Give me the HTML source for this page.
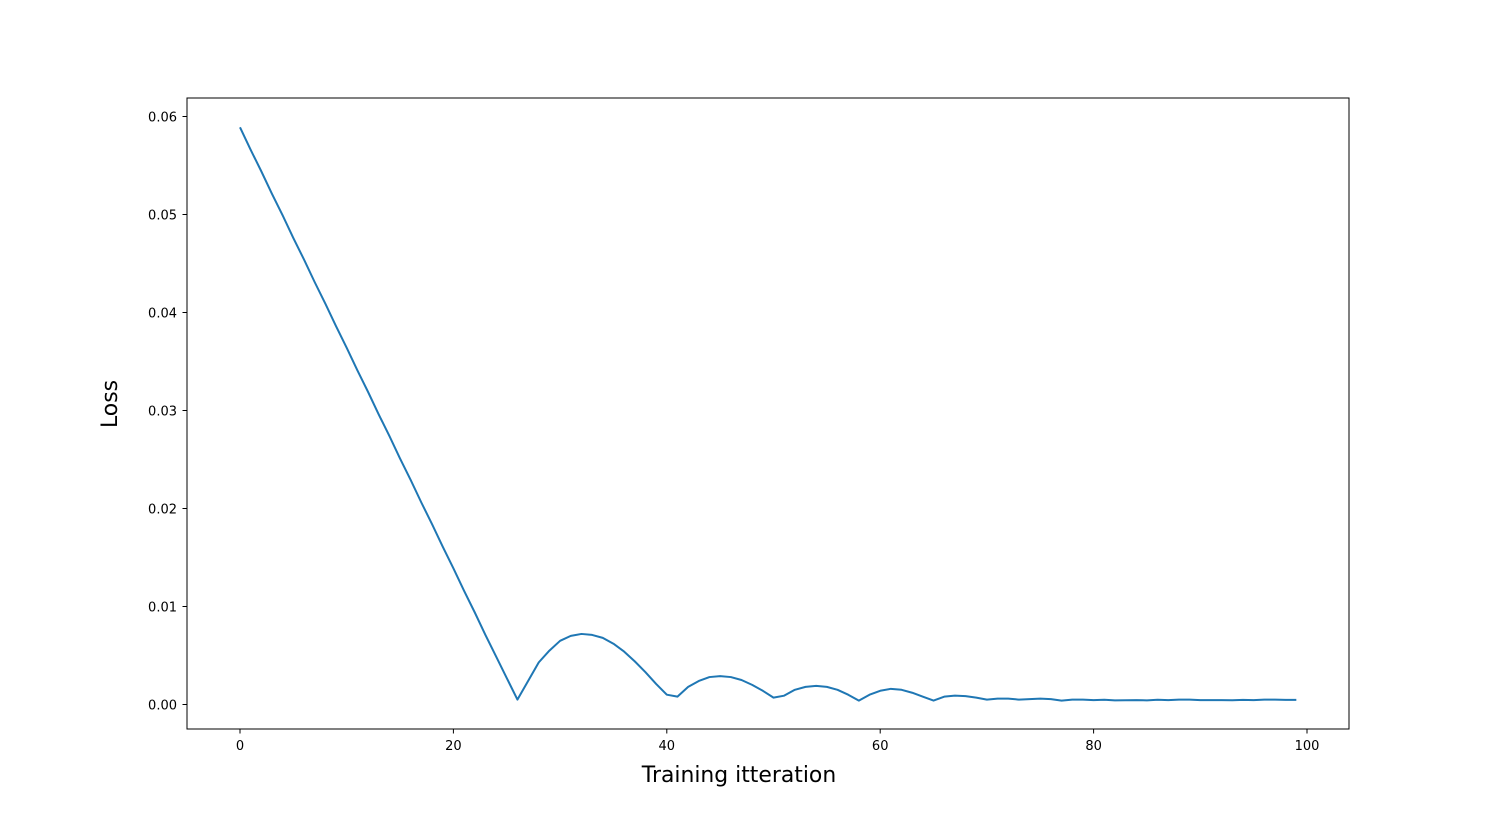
<!DOCTYPE html>
<html><head><meta charset="utf-8"><style>
html,body{margin:0;padding:0;background:#fff;}
svg{display:block;font-family:"DejaVu Sans","Liberation Sans",sans-serif;}
</style></head><body>
<svg id="chart" width="1499" height="819">
<rect x="187" y="98" width="1162" height="631" fill="none" stroke="#000" stroke-width="1"/>
<g id="xticks"></g>
<g id="yticks"></g>
<text x="739" y="782" font-size="21.9" text-anchor="middle">Training itteration</text>
<text x="117" y="404" font-size="21.9" text-anchor="middle" transform="rotate(-90 117 404)">Loss</text>
<path id="line" fill="none" stroke="#1f77b4" stroke-width="2" stroke-linejoin="round"/>
</svg>
<script>
const xTicks = [0, 20, 40, 60, 80, 100];
const yTicks = [0, 0.01, 0.02, 0.03, 0.04, 0.05, 0.06];
const yTickLabels = ["0.00","0.01","0.02","0.03","0.04","0.05","0.06"];
const lossHead = [0.0589,0.0566,0.0544,0.0521,0.0499,0.0476,0.0454,0.0431,0.0409,0.0386,0.0364,0.0341,0.0319,0.0296,0.0274,0.0251,0.0229,0.0206,0.0184,0.0161,0.0139,0.0116,0.0094,0.0071,0.0049,0.0027,0.0005];
const lossTail = [0.0024,0.0043,0.0055,0.0065,0.0070,0.0072,0.0071,0.0068,0.0062,0.0054,0.0044,0.0033,0.0021,0.0010,0.0008,
0.0018,0.0024,0.0028,0.0029,0.0028,0.0025,0.0020,0.0014,0.0007,0.0009,0.0015,0.0018,0.0019,0.0018,0.0015,0.0010,0.0004,
0.0010,0.0014,0.0016,0.0015,0.0012,0.0008,0.0004,0.0008,0.0009,0.00085,0.0007,0.0005,0.0006,0.0006,0.0005,0.00055,0.0006,0.00055,0.0004,
0.0005,0.0005,0.00045,0.00048,0.00042,0.00043,0.00045,0.00042,0.00048,0.00045,0.0005,0.0005,0.00045,0.00045,0.00045,0.00043,0.00047,0.00045,0.0005,0.0005,0.00047,0.00047];
const loss = lossHead.concat(lossTail);
const NS="http://www.w3.org/2000/svg";
function xs(v){return 240+v*(1307-240)/100;}
function ys(v){return 704.5-v*9800;}
const xg=document.getElementById('xticks'), yg=document.getElementById('yticks');
xTicks.forEach(t=>{
  const l=document.createElementNS(NS,'line');
  l.setAttribute('x1',xs(t));l.setAttribute('x2',xs(t));l.setAttribute('y1',729);l.setAttribute('y2',733.5);l.setAttribute('stroke','#000');
  
  
  xg.appendChild(l);
  const tx=document.createElementNS(NS,'text');
  tx.setAttribute('x',xs(t));tx.setAttribute('y',750);tx.setAttribute('font-size','13');tx.setAttribute('text-anchor','middle');
  tx.textContent=t;
  
  
  xg.appendChild(tx);
});
yTicks.forEach((t,i)=>{
  const l=document.createElementNS(NS,'line');
  l.setAttribute('x1',182.5);l.setAttribute('x2',187);l.setAttribute('y1',ys(t));l.setAttribute('y2',ys(t));l.setAttribute('stroke','#000');
  
  
  yg.appendChild(l);
  const tx=document.createElementNS(NS,'text');
  tx.setAttribute('x',177);tx.setAttribute('y',ys(t)+5);tx.setAttribute('font-size','13');tx.setAttribute('text-anchor','end');
  tx.textContent=yTickLabels[i];
  
  
  yg.appendChild(tx);
});
document.getElementById('line').setAttribute('d', loss.map((v,i)=>(i?'L':'M')+xs(i).toFixed(2)+','+ys(v).toFixed(2)).join(' '));
</script>
</body></html>
